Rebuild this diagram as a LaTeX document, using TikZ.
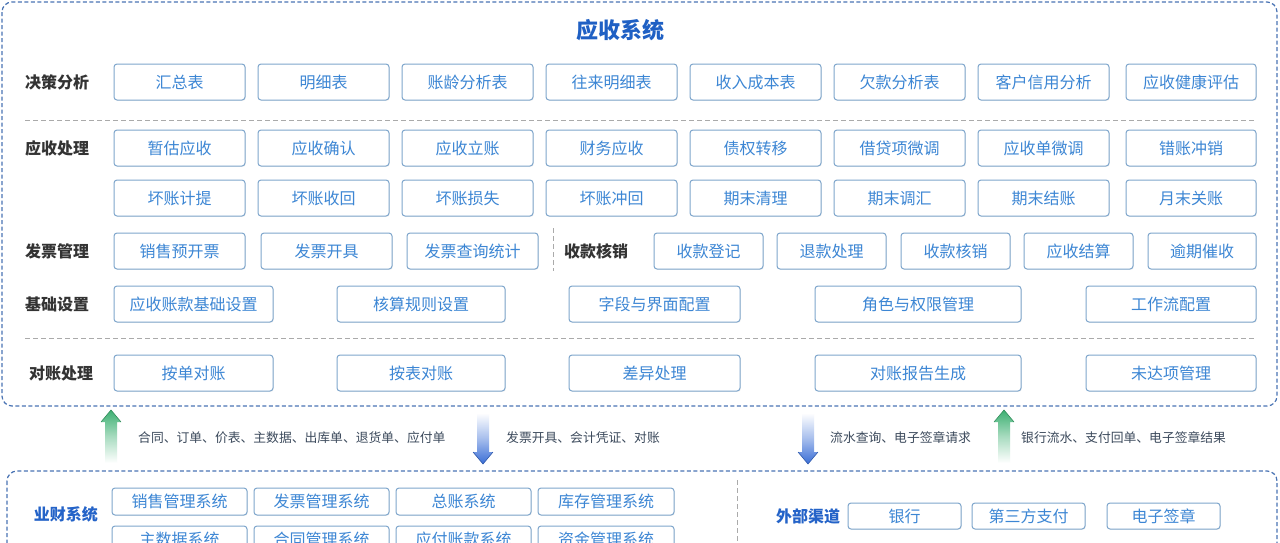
\documentclass[tikz,border=0pt]{standalone}
\usepackage{fontspec}
\setmainfont{Noto Sans CJK SC}
\usetikzlibrary{shadows}
\definecolor{bxborder}{HTML}{7FA6CC}
\definecolor{bxtext}{HTML}{3C86D4}
\definecolor{lbltext}{HTML}{333333}
\definecolor{titleblue}{HTML}{1F60C4}
\definecolor{outerblue}{HTML}{4A74B4}
\definecolor{sepgray}{HTML}{AAAAAA}
\definecolor{arrtext}{HTML}{3C4A5C}
\definecolor{sysblue}{HTML}{2463C8}
\definecolor{agreen}{HTML}{3DB072}
\definecolor{ablue}{HTML}{3A6ED6}
\tikzset{
  bxs/.style={draw=bxborder, line width=1pt, rounded corners=3pt, fill=white,
    inner sep=0pt, text=bxtext, font=\fontsize{16}{16}\selectfont,
    drop shadow={shadow xshift=0.8pt, shadow yshift=-0.8pt, opacity=0.12}},
  lbl/.style={text=lbltext, font=\fontsize{16}{16}\selectfont\bfseries, inner sep=0pt},
  syslbl/.style={text=sysblue, font=\fontsize{16}{16}\selectfont\bfseries, inner sep=0pt},
  arrlbl/.style={text=arrtext, font=\fontsize{12.8}{13}\selectfont, inner sep=0pt, anchor=west},
  outerframe/.style={draw=outerblue, line width=1.2pt, dash pattern=on 4pt off 2.5pt, rounded corners=10pt},
  sepline/.style={draw=sepgray, line width=1pt, dash pattern=on 5pt off 3pt},
}
\newcommand{\mkbox}[6]{%
  \pgfmathsetmacro\mkbw{#3-#2}%
  \pgfmathsetmacro\mkbh{#5-#4}%
  \pgfmathsetmacro\mkcx{(#2+#3)/2}%
  \pgfmathsetmacro\mkcy{(#4+#5)/2}%
  \node[bxs, minimum width=\mkbw pt, minimum height=\mkbh pt] (#1) at (\mkcx,\mkcy) {#6};}
\begin{document}
\begin{tikzpicture}[x=1pt,y=-1pt]
\useasboundingbox (0,0) rectangle (1280,542);
\clip (0,0) rectangle (1280,542);
\fill[white] (0,0) rectangle (1280,542);

% ---------- top system frame ----------
\draw[outerframe] (2,2) rectangle (1277,406);
\node[text=titleblue, font=\fontsize{22}{22}\selectfont\bfseries] (title) at (620,30) {应收系统};

% row labels
\node[lbl] (l1) at (57,82) {决策分析};
\node[lbl] (l2) at (57,148) {应收处理};
\node[lbl] (l4) at (57,251) {发票管理};
\node[lbl] (l4b) at (596,251) {收款核销};
\node[lbl] (l5) at (57,304) {基础设置};
\node[lbl] (l6) at (61,373) {对账处理};

% row 1
\foreach \a/\b/\n/\t in {114/245/a1/汇总表, 258/389/a2/明细表, 402/533/a3/账龄分析表,
  546/677/a4/往来明细表, 690/821/a5/收入成本表, 834/965/a6/欠款分析表,
  978/1109/a7/客户信用分析, 1126/1256/a8/应收健康评估}
  {\mkbox{\n}{\a}{\b}{64}{100}{\t}}

\draw[sepline] (25,120) -- (1255,120);

% row 2
\foreach \a/\b/\n/\t in {114/245/b1/暂估应收, 258/389/b2/应收确认, 402/533/b3/应收立账,
  546/677/b4/财务应收, 690/821/b5/债权转移, 834/965/b6/借贷项微调,
  978/1109/b7/应收单微调, 1126/1256/b8/错账冲销}
  {\mkbox{\n}{\a}{\b}{130}{166}{\t}}

% row 3
\foreach \a/\b/\n/\t in {114/245/c1/坏账计提, 258/389/c2/坏账收回, 402/533/c3/坏账损失,
  546/677/c4/坏账冲回, 690/821/c5/期末清理, 834/965/c6/期末调汇,
  978/1109/c7/期末结账, 1126/1256/c8/月末关账}
  {\mkbox{\n}{\a}{\b}{180}{216}{\t}}

% row 4
\foreach \a/\b/\n/\t in {114/245/d1/销售预开票, 261/392/d2/发票开具, 407/538/d3/发票查询统计,
  654/763/d4/收款登记, 777/886/d5/退款处理, 901/1010/d6/收款核销,
  1024/1133/d7/应收结算, 1148/1256/d8/逾期催收}
  {\mkbox{\n}{\a}{\b}{233}{269}{\t}}
\draw[sepline] (553,228) -- (553,271);

% row 5
\foreach \a/\b/\n/\t in {114/273/e1/应收账款基础设置, 337/505/e2/核算规则设置,
  569/740/e3/字段与界面配置, 815/1021/e4/角色与权限管理, 1086/1256/e5/工作流配置}
  {\mkbox{\n}{\a}{\b}{286}{322}{\t}}

\draw[sepline] (25,338) -- (1255,338);

% row 6
\foreach \a/\b/\n/\t in {114/273/f1/按单对账, 337/505/f2/按表对账,
  569/740/f3/差异处理, 815/1021/f4/对账报告生成, 1086/1256/f5/未达项管理}
  {\mkbox{\n}{\a}{\b}{355}{391}{\t}}

% ---------- arrows ----------
% green up arrows
\foreach \cx/\n in {111/ga, 1004/gb}{
  \coordinate (\n) at (\cx,410);
  \shade[top color=agreen, bottom color=white, middle color=agreen!45]
    (\cx,410) -- (\cx+10,422) -- (\cx+6,422) -- (\cx+6,463) -- (\cx-6,463)
    -- (\cx-6,422) -- (\cx-10,422) -- cycle;
  \draw[agreen!80!black, line width=0.6pt, line join=round]
    (\cx-10,422) -- (\cx,410) -- (\cx+10,422);
}
% blue down arrows
\foreach \cx/\n in {483/ba, 808/bb}{
  \coordinate (\n) at (\cx,464);
  \shade[top color=white, bottom color=ablue, middle color=ablue!45]
    (\cx-6,413) -- (\cx+6,413) -- (\cx+6,452) -- (\cx+10,452) -- (\cx,464)
    -- (\cx-10,452) -- (\cx-6,452) -- cycle;
  \draw[ablue!80!black, line width=0.6pt, line join=round]
    (\cx-10,452) -- (\cx,464) -- (\cx+10,452);
}
\node[arrlbl] (t1) at (138,438) {合同、订单、价表、主数据、出库单、退货单、应付单};
\node[arrlbl] (t2) at (506,438) {发票开具、会计凭证、对账};
\node[arrlbl] (t3) at (830,438) {流水查询、电子签章请求};
\node[arrlbl] (t4) at (1021,438) {银行流水、支付回单、电子签章结果};

% ---------- bottom frame ----------
\draw[outerframe] (7,471) rectangle (1277,640);
\draw[sepline] (737,480) -- (737,600);
\node[syslbl] (s1) at (66,514) {业财系统};
\node[syslbl] (s2) at (808,516) {外部渠道};

\foreach \a/\b/\n/\t in {112/247/g1/销售管理系统, 254/389/g2/发票管理系统,
  396/531/g3/总账系统, 538/674/g4/库存管理系统}
  {\mkbox{\n}{\a}{\b}{488}{515}{\t}}
\foreach \a/\b/\n/\t in {112/247/h1/主数据系统, 254/389/h2/合同管理系统,
  396/531/h3/应付账款系统, 538/674/h4/资金管理系统}
  {\mkbox{\n}{\a}{\b}{526}{553}{\t}}
\foreach \a/\b/\n/\t in {848/961/k1/银行, 972/1085/k2/第三方支付, 1107/1220/k3/电子签章}
  {\mkbox{\n}{\a}{\b}{503}{529}{\t}}
\end{tikzpicture}
\end{document}
